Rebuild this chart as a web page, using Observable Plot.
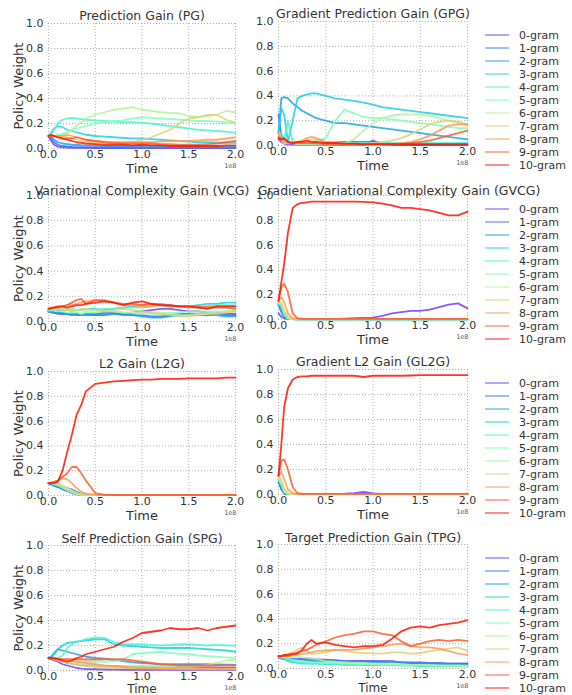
<!DOCTYPE html>
<html><head><meta charset="utf-8">
<script src="https://cdn.jsdelivr.net/npm/d3@7"></script>
<script src="https://cdn.jsdelivr.net/npm/@observablehq/plot@0.6"></script>
<style>
body{margin:0;background:#fff;font-family:"DejaVu Sans",sans-serif;}
#fig{position:relative;width:572px;height:695px;overflow:hidden;background:#fff;}
.legend{position:absolute;font-family:"DejaVu Sans",sans-serif;font-size:11px;color:#333;}
.legend .row{display:flex;align-items:center;height:13px;white-space:nowrap;}
.legend svg{margin-right:10px;}
</style></head><body><div id="fig"></div>
<script>
const SERIES = ["0-gram","1-gram","2-gram","3-gram","4-gram","5-gram","6-gram","7-gram","8-gram","9-gram","10-gram"];
const T = [0,0.03,0.06,0.1,0.15,0.2,0.25,0.3,0.35,0.4,0.5,0.6,0.7,0.8,0.9,1.0,1.1,1.2,1.3,1.4,1.5,1.6,1.7,1.8,1.9,2.0];
const XTICKS = [0,0.5,1,1.5,2];
const YTICKS = [0,0.2,0.4,0.6,0.8,1];

const PG = [
[0.10,0.06,0.03,0.015,0.01,0.008,0.006,0.005,0.005,0.005,0.004,0.004,0.004,0.004,0.003,0.003,0.003,0.003,0.003,0.003,0.003,0.003,0.003,0.003,0.003,0.003],
[0.10,0.08,0.05,0.03,0.02,0.016,0.013,0.011,0.01,0.01,0.009,0.008,0.008,0.008,0.007,0.007,0.007,0.006,0.006,0.006,0.006,0.006,0.005,0.005,0.005,0.005],
[0.10,0.09,0.07,0.05,0.04,0.035,0.03,0.028,0.026,0.025,0.022,0.02,0.02,0.019,0.019,0.018,0.018,0.018,0.017,0.017,0.017,0.016,0.016,0.016,0.016,0.015],
[0.10,0.13,0.16,0.18,0.17,0.15,0.14,0.13,0.12,0.11,0.10,0.095,0.09,0.085,0.08,0.08,0.075,0.07,0.065,0.06,0.055,0.05,0.05,0.048,0.046,0.045],
[0.10,0.12,0.15,0.20,0.23,0.24,0.245,0.24,0.235,0.23,0.225,0.22,0.215,0.21,0.21,0.205,0.20,0.19,0.18,0.17,0.16,0.15,0.145,0.14,0.135,0.125],
[0.10,0.10,0.10,0.11,0.12,0.13,0.15,0.16,0.17,0.18,0.20,0.21,0.22,0.225,0.24,0.25,0.245,0.24,0.235,0.23,0.225,0.22,0.22,0.215,0.21,0.20],
[0.10,0.10,0.10,0.10,0.11,0.12,0.15,0.18,0.21,0.24,0.27,0.29,0.31,0.32,0.33,0.31,0.30,0.29,0.285,0.28,0.26,0.25,0.26,0.27,0.30,0.29],
[0.10,0.10,0.10,0.10,0.10,0.09,0.08,0.07,0.06,0.055,0.05,0.045,0.04,0.04,0.05,0.07,0.09,0.12,0.15,0.20,0.24,0.25,0.27,0.27,0.23,0.21],
[0.10,0.10,0.10,0.10,0.10,0.11,0.10,0.09,0.08,0.07,0.06,0.055,0.05,0.05,0.05,0.05,0.05,0.055,0.06,0.06,0.06,0.065,0.07,0.07,0.08,0.09],
[0.10,0.10,0.10,0.09,0.08,0.08,0.08,0.09,0.08,0.07,0.06,0.05,0.045,0.04,0.04,0.04,0.04,0.035,0.035,0.03,0.03,0.03,0.035,0.04,0.05,0.06],
[0.10,0.11,0.10,0.09,0.08,0.07,0.06,0.05,0.045,0.04,0.035,0.03,0.03,0.03,0.025,0.03,0.025,0.025,0.02,0.02,0.02,0.02,0.02,0.02,0.025,0.025]
];
const GPG = [
[0.05,0.03,0.015,0.01,0.008,0.006,0.005,0.005,0.005,0.005,0.005,0.005,0.005,0.005,0.006,0.04,0.01,0.005,0.004,0.004,0.004,0.004,0.003,0.003,0.003,0.003],
[0.25,0.08,0.03,0.02,0.02,0.02,0.02,0.02,0.02,0.02,0.025,0.025,0.03,0.03,0.03,0.03,0.02,0.015,0.01,0.01,0.01,0.01,0.01,0.01,0.01,0.01],
[0.10,0.38,0.39,0.38,0.34,0.31,0.28,0.26,0.24,0.22,0.20,0.18,0.18,0.17,0.16,0.15,0.14,0.13,0.12,0.11,0.10,0.09,0.08,0.07,0.06,0.05],
[0.10,0.30,0.25,0.03,0.20,0.38,0.40,0.41,0.42,0.42,0.40,0.38,0.37,0.36,0.345,0.33,0.31,0.30,0.29,0.28,0.27,0.26,0.25,0.24,0.23,0.22],
[0.10,0.10,0.05,0.20,0.03,0.02,0.02,0.02,0.02,0.02,0.02,0.02,0.02,0.02,0.02,0.02,0.02,0.02,0.02,0.02,0.02,0.02,0.02,0.02,0.02,0.02],
[0.10,0.05,0.02,0.02,0.02,0.02,0.02,0.02,0.03,0.04,0.06,0.20,0.29,0.26,0.23,0.22,0.22,0.21,0.20,0.19,0.18,0.17,0.16,0.15,0.14,0.14],
[0.10,0.05,0.02,0.02,0.02,0.01,0.01,0.01,0.01,0.01,0.01,0.01,0.02,0.05,0.12,0.18,0.22,0.24,0.25,0.25,0.25,0.24,0.22,0.20,0.18,0.16],
[0.10,0.05,0.02,0.02,0.02,0.02,0.03,0.04,0.05,0.05,0.03,0.02,0.01,0.01,0.01,0.02,0.03,0.04,0.06,0.09,0.13,0.17,0.19,0.20,0.19,0.17],
[0.10,0.05,0.03,0.02,0.03,0.03,0.04,0.06,0.07,0.06,0.03,0.02,0.01,0.01,0.01,0.01,0.01,0.01,0.02,0.03,0.05,0.08,0.12,0.16,0.17,0.17],
[0.07,0.05,0.05,0.03,0.02,0.02,0.02,0.02,0.02,0.02,0.01,0.01,0.01,0.01,0.01,0.01,0.01,0.01,0.01,0.02,0.03,0.04,0.06,0.08,0.10,0.12],
[0.06,0.05,0.06,0.03,0.02,0.03,0.03,0.04,0.03,0.03,0.02,0.02,0.015,0.015,0.01,0.01,0.01,0.01,0.01,0.01,0.01,0.01,0.01,0.01,0.01,0.01]
];
const VCG = [
[0.08,0.07,0.07,0.06,0.06,0.06,0.05,0.06,0.05,0.06,0.06,0.07,0.07,0.06,0.07,0.08,0.09,0.10,0.10,0.09,0.08,0.08,0.07,0.07,0.06,0.06],
[0.08,0.08,0.07,0.07,0.06,0.06,0.06,0.05,0.05,0.06,0.05,0.05,0.06,0.06,0.05,0.05,0.04,0.04,0.05,0.06,0.06,0.05,0.05,0.06,0.05,0.05],
[0.08,0.08,0.07,0.07,0.07,0.06,0.06,0.06,0.05,0.05,0.05,0.06,0.06,0.05,0.05,0.04,0.03,0.03,0.04,0.05,0.06,0.06,0.05,0.05,0.04,0.04],
[0.08,0.08,0.09,0.09,0.09,0.09,0.10,0.09,0.09,0.10,0.10,0.09,0.10,0.11,0.12,0.13,0.14,0.14,0.13,0.12,0.12,0.13,0.14,0.14,0.15,0.15],
[0.09,0.09,0.09,0.10,0.10,0.10,0.09,0.09,0.10,0.10,0.09,0.10,0.10,0.11,0.11,0.11,0.12,0.13,0.12,0.12,0.11,0.12,0.12,0.13,0.13,0.13],
[0.09,0.09,0.09,0.08,0.08,0.07,0.07,0.07,0.06,0.07,0.07,0.08,0.08,0.07,0.07,0.07,0.06,0.06,0.07,0.07,0.08,0.08,0.07,0.08,0.08,0.09],
[0.10,0.10,0.10,0.10,0.11,0.10,0.10,0.09,0.09,0.08,0.09,0.08,0.08,0.07,0.07,0.06,0.07,0.07,0.06,0.05,0.05,0.06,0.06,0.07,0.08,0.08],
[0.10,0.10,0.10,0.10,0.09,0.09,0.08,0.09,0.10,0.10,0.09,0.08,0.09,0.10,0.09,0.08,0.07,0.06,0.05,0.04,0.04,0.05,0.06,0.06,0.07,0.08],
[0.10,0.10,0.11,0.11,0.12,0.13,0.13,0.14,0.15,0.16,0.17,0.16,0.15,0.13,0.13,0.12,0.12,0.13,0.12,0.12,0.11,0.11,0.12,0.12,0.12,0.12],
[0.10,0.10,0.11,0.11,0.12,0.13,0.15,0.17,0.18,0.14,0.17,0.17,0.15,0.14,0.14,0.13,0.14,0.13,0.12,0.12,0.12,0.12,0.11,0.11,0.11,0.10],
[0.10,0.11,0.11,0.12,0.12,0.11,0.12,0.13,0.13,0.14,0.15,0.16,0.15,0.13,0.15,0.16,0.14,0.13,0.13,0.12,0.12,0.11,0.10,0.12,0.12,0.12]
];
const GVCG = [
[0.05,0.02,0.01,0.005,0.003,0.003,0.003,0.003,0.003,0.003,0.005,0.005,0.007,0.01,0.012,0.015,0.03,0.05,0.06,0.07,0.07,0.08,0.10,0.12,0.13,0.09],
[0.12,0.06,0.02,0.005,0.003,0.002,0.002,0.002,0.002,0.002,0.002,0.002,0.002,0.002,0.002,0.002,0.002,0.002,0.002,0.002,0.002,0.002,0.002,0.002,0.002,0.002],
[0.12,0.08,0.02,0.005,0.003,0.002,0.002,0.002,0.002,0.002,0.002,0.002,0.002,0.002,0.002,0.002,0.002,0.002,0.002,0.002,0.002,0.002,0.002,0.002,0.002,0.002],
[0.13,0.10,0.03,0.006,0.003,0.002,0.002,0.002,0.002,0.002,0.002,0.002,0.002,0.002,0.002,0.002,0.002,0.002,0.002,0.002,0.002,0.002,0.002,0.002,0.002,0.002],
[0.13,0.12,0.04,0.01,0.003,0.002,0.002,0.002,0.002,0.002,0.002,0.002,0.002,0.002,0.002,0.002,0.002,0.002,0.002,0.002,0.002,0.002,0.002,0.002,0.002,0.002],
[0.13,0.12,0.05,0.01,0.004,0.002,0.002,0.002,0.002,0.002,0.002,0.002,0.002,0.002,0.002,0.002,0.002,0.002,0.002,0.002,0.002,0.002,0.002,0.002,0.002,0.002],
[0.14,0.13,0.06,0.012,0.004,0.002,0.002,0.002,0.002,0.002,0.002,0.002,0.002,0.002,0.002,0.002,0.002,0.002,0.002,0.002,0.002,0.002,0.002,0.002,0.002,0.002],
[0.14,0.14,0.07,0.02,0.005,0.003,0.003,0.003,0.003,0.003,0.003,0.003,0.003,0.003,0.003,0.003,0.003,0.003,0.003,0.003,0.003,0.003,0.003,0.003,0.003,0.003],
[0.15,0.18,0.14,0.05,0.01,0.005,0.004,0.004,0.004,0.004,0.004,0.004,0.004,0.004,0.004,0.004,0.004,0.004,0.004,0.004,0.004,0.004,0.004,0.004,0.004,0.004],
[0.15,0.26,0.29,0.22,0.05,0.01,0.006,0.005,0.005,0.005,0.005,0.005,0.005,0.005,0.005,0.005,0.005,0.005,0.005,0.005,0.005,0.005,0.005,0.005,0.005,0.005],
[0.15,0.30,0.45,0.70,0.90,0.93,0.94,0.945,0.95,0.95,0.95,0.95,0.95,0.95,0.948,0.945,0.935,0.92,0.90,0.90,0.89,0.88,0.86,0.84,0.84,0.87]
];
const L2G = [
[0.10,0.09,0.08,0.07,0.05,0.035,0.02,0.01,0.006,0.004,0.004,0.004,0.004,0.004,0.004,0.004,0.004,0.004,0.004,0.004,0.004,0.004,0.004,0.004,0.004,0.004],
[0.10,0.09,0.08,0.07,0.06,0.05,0.03,0.02,0.01,0.006,0.004,0.004,0.004,0.004,0.004,0.004,0.004,0.004,0.004,0.004,0.004,0.004,0.004,0.004,0.004,0.004],
[0.10,0.09,0.09,0.08,0.07,0.06,0.05,0.03,0.015,0.008,0.005,0.005,0.005,0.005,0.005,0.005,0.005,0.005,0.005,0.005,0.005,0.005,0.005,0.005,0.005,0.005],
[0.10,0.10,0.09,0.08,0.06,0.05,0.03,0.02,0.01,0.006,0.005,0.005,0.005,0.005,0.005,0.005,0.005,0.005,0.005,0.005,0.005,0.005,0.005,0.005,0.005,0.005],
[0.10,0.10,0.09,0.08,0.06,0.04,0.025,0.012,0.007,0.005,0.005,0.005,0.005,0.005,0.005,0.005,0.005,0.005,0.005,0.005,0.005,0.005,0.005,0.005,0.005,0.005],
[0.10,0.10,0.09,0.09,0.07,0.05,0.03,0.015,0.008,0.005,0.004,0.004,0.004,0.004,0.004,0.004,0.004,0.004,0.004,0.004,0.004,0.004,0.004,0.004,0.004,0.004],
[0.10,0.10,0.10,0.09,0.07,0.05,0.03,0.015,0.008,0.005,0.004,0.004,0.004,0.004,0.004,0.004,0.004,0.004,0.004,0.004,0.004,0.004,0.004,0.004,0.004,0.004],
[0.10,0.11,0.11,0.10,0.08,0.06,0.04,0.02,0.01,0.006,0.004,0.004,0.004,0.004,0.004,0.004,0.004,0.004,0.004,0.004,0.004,0.004,0.004,0.004,0.004,0.004],
[0.10,0.10,0.11,0.12,0.14,0.13,0.10,0.06,0.03,0.015,0.005,0.004,0.004,0.004,0.004,0.004,0.004,0.004,0.004,0.004,0.004,0.004,0.004,0.004,0.004,0.004],
[0.10,0.10,0.11,0.12,0.15,0.18,0.23,0.23,0.18,0.12,0.02,0.005,0.004,0.004,0.004,0.004,0.004,0.004,0.004,0.004,0.004,0.004,0.004,0.004,0.004,0.004],
[0.10,0.10,0.10,0.11,0.20,0.35,0.49,0.65,0.73,0.84,0.90,0.91,0.92,0.925,0.93,0.935,0.935,0.94,0.94,0.94,0.945,0.945,0.945,0.945,0.95,0.95]
];
const GL2G = [
[0.10,0.04,0.01,0.003,0.003,0.003,0.003,0.003,0.003,0.003,0.003,0.004,0.006,0.01,0.02,0.008,0.005,0.004,0.004,0.004,0.004,0.003,0.003,0.003,0.003,0.003],
[0.12,0.05,0.01,0.003,0.003,0.003,0.003,0.003,0.003,0.003,0.003,0.003,0.003,0.003,0.003,0.003,0.003,0.003,0.003,0.003,0.003,0.003,0.003,0.003,0.003,0.003],
[0.12,0.06,0.015,0.004,0.003,0.003,0.003,0.003,0.003,0.003,0.003,0.003,0.003,0.003,0.003,0.003,0.003,0.003,0.003,0.003,0.003,0.003,0.003,0.003,0.003,0.003],
[0.12,0.07,0.02,0.004,0.003,0.003,0.003,0.003,0.003,0.003,0.003,0.003,0.003,0.003,0.003,0.003,0.003,0.003,0.003,0.003,0.003,0.003,0.003,0.003,0.003,0.003],
[0.12,0.08,0.02,0.005,0.003,0.003,0.003,0.003,0.003,0.003,0.003,0.003,0.003,0.003,0.003,0.003,0.003,0.003,0.003,0.003,0.003,0.003,0.003,0.003,0.003,0.003],
[0.13,0.09,0.025,0.005,0.003,0.003,0.003,0.003,0.003,0.003,0.003,0.003,0.003,0.003,0.003,0.003,0.003,0.003,0.003,0.003,0.003,0.003,0.003,0.003,0.003,0.003],
[0.13,0.10,0.03,0.006,0.003,0.003,0.003,0.003,0.003,0.003,0.003,0.003,0.003,0.003,0.003,0.003,0.003,0.003,0.003,0.003,0.003,0.003,0.003,0.003,0.003,0.003],
[0.14,0.12,0.05,0.01,0.004,0.004,0.004,0.004,0.004,0.004,0.004,0.004,0.004,0.004,0.004,0.004,0.004,0.004,0.004,0.004,0.004,0.004,0.004,0.004,0.004,0.004],
[0.15,0.18,0.12,0.04,0.01,0.005,0.005,0.005,0.005,0.005,0.005,0.005,0.005,0.005,0.005,0.005,0.005,0.005,0.005,0.005,0.005,0.005,0.005,0.005,0.005,0.005],
[0.15,0.27,0.28,0.20,0.06,0.01,0.006,0.005,0.005,0.005,0.005,0.005,0.005,0.005,0.005,0.005,0.005,0.005,0.005,0.005,0.005,0.005,0.005,0.005,0.005,0.005],
[0.15,0.40,0.70,0.85,0.92,0.94,0.945,0.945,0.95,0.95,0.95,0.95,0.95,0.95,0.94,0.95,0.95,0.95,0.95,0.952,0.955,0.955,0.955,0.955,0.955,0.955]
];
const SPG = [
[0.10,0.09,0.08,0.07,0.05,0.04,0.03,0.02,0.015,0.012,0.01,0.008,0.007,0.006,0.006,0.005,0.005,0.005,0.005,0.005,0.005,0.005,0.005,0.005,0.005,0.005],
[0.10,0.10,0.09,0.08,0.07,0.06,0.055,0.05,0.045,0.04,0.04,0.035,0.035,0.03,0.03,0.03,0.03,0.03,0.028,0.027,0.026,0.025,0.024,0.022,0.021,0.02],
[0.10,0.11,0.14,0.17,0.16,0.15,0.14,0.13,0.12,0.11,0.10,0.095,0.085,0.075,0.065,0.06,0.055,0.05,0.05,0.05,0.05,0.05,0.05,0.048,0.047,0.045],
[0.10,0.11,0.13,0.17,0.20,0.22,0.225,0.23,0.235,0.24,0.25,0.25,0.21,0.20,0.195,0.19,0.185,0.18,0.18,0.18,0.18,0.175,0.17,0.165,0.16,0.15],
[0.10,0.10,0.10,0.10,0.12,0.18,0.21,0.23,0.24,0.25,0.265,0.26,0.23,0.21,0.21,0.21,0.205,0.20,0.205,0.21,0.21,0.205,0.20,0.205,0.20,0.20],
[0.10,0.10,0.09,0.09,0.085,0.08,0.08,0.075,0.07,0.07,0.07,0.07,0.075,0.09,0.13,0.14,0.145,0.15,0.14,0.135,0.13,0.12,0.115,0.11,0.105,0.10],
[0.10,0.10,0.09,0.08,0.07,0.065,0.06,0.055,0.05,0.045,0.04,0.035,0.03,0.03,0.03,0.03,0.03,0.03,0.03,0.03,0.03,0.035,0.045,0.06,0.08,0.085],
[0.10,0.10,0.09,0.08,0.07,0.06,0.05,0.045,0.04,0.035,0.03,0.025,0.02,0.02,0.02,0.018,0.017,0.016,0.015,0.015,0.015,0.014,0.014,0.013,0.013,0.012],
[0.10,0.10,0.09,0.09,0.085,0.08,0.075,0.07,0.065,0.06,0.05,0.04,0.035,0.03,0.025,0.02,0.018,0.015,0.013,0.012,0.011,0.01,0.01,0.01,0.01,0.01],
[0.10,0.10,0.10,0.095,0.09,0.09,0.09,0.09,0.09,0.088,0.088,0.09,0.09,0.09,0.08,0.07,0.06,0.05,0.045,0.04,0.04,0.04,0.04,0.04,0.04,0.04],
[0.10,0.10,0.095,0.09,0.08,0.07,0.08,0.10,0.11,0.13,0.15,0.17,0.19,0.23,0.26,0.30,0.31,0.32,0.34,0.33,0.33,0.34,0.32,0.34,0.35,0.36]
];
const TPG = [
[0.09,0.08,0.075,0.07,0.07,0.075,0.08,0.08,0.08,0.075,0.07,0.065,0.06,0.06,0.06,0.06,0.06,0.06,0.05,0.045,0.04,0.04,0.04,0.04,0.04,0.04],
[0.10,0.09,0.09,0.08,0.08,0.075,0.075,0.07,0.07,0.07,0.07,0.065,0.06,0.06,0.06,0.06,0.055,0.055,0.05,0.05,0.05,0.045,0.045,0.04,0.04,0.04],
[0.10,0.09,0.08,0.07,0.07,0.065,0.065,0.06,0.06,0.06,0.06,0.055,0.055,0.05,0.05,0.05,0.05,0.055,0.05,0.04,0.04,0.035,0.035,0.035,0.03,0.03],
[0.10,0.09,0.08,0.06,0.05,0.045,0.04,0.04,0.04,0.04,0.035,0.035,0.03,0.03,0.03,0.03,0.03,0.025,0.025,0.025,0.02,0.02,0.02,0.02,0.02,0.02],
[0.10,0.09,0.08,0.07,0.06,0.05,0.045,0.045,0.04,0.04,0.04,0.035,0.035,0.03,0.03,0.03,0.03,0.03,0.025,0.025,0.025,0.02,0.02,0.02,0.02,0.015],
[0.10,0.09,0.09,0.08,0.07,0.065,0.06,0.055,0.05,0.05,0.045,0.045,0.04,0.04,0.035,0.035,0.03,0.03,0.03,0.025,0.025,0.025,0.02,0.02,0.02,0.02],
[0.10,0.10,0.10,0.10,0.10,0.095,0.09,0.085,0.08,0.075,0.06,0.055,0.05,0.045,0.045,0.04,0.04,0.035,0.035,0.03,0.03,0.03,0.025,0.025,0.025,0.02],
[0.10,0.10,0.11,0.12,0.13,0.15,0.17,0.14,0.12,0.12,0.13,0.15,0.14,0.13,0.125,0.12,0.12,0.13,0.13,0.12,0.125,0.14,0.15,0.16,0.17,0.14],
[0.10,0.10,0.10,0.11,0.11,0.11,0.12,0.12,0.13,0.14,0.145,0.15,0.15,0.15,0.16,0.17,0.18,0.19,0.20,0.18,0.17,0.17,0.16,0.14,0.12,0.11],
[0.10,0.10,0.10,0.10,0.11,0.13,0.14,0.15,0.17,0.19,0.22,0.25,0.27,0.28,0.30,0.30,0.28,0.27,0.22,0.18,0.20,0.22,0.23,0.22,0.23,0.22],
[0.10,0.10,0.11,0.11,0.12,0.12,0.15,0.20,0.23,0.20,0.21,0.19,0.18,0.17,0.18,0.18,0.19,0.24,0.30,0.33,0.34,0.33,0.35,0.36,0.37,0.39]
];

const COLORS = ["#7040ff","#3f6ffb","#1aa0f0","#1ad0e3","#4df3ce","#80ffb4","#b3f396","#e0cf78","#ff9a50","#ff5a2e","#ff1500"];

const PANELS = [
  {title:"Prediction Gain (PG)", data:PG, col:0, top:23, bottom:148, tdy:-8, timeDy:20, tfs:13},
  {title:"Gradient Prediction Gain (GPG)", data:GPG, col:1, top:21, bottom:145, tdy:-8, timeDy:20, tfs:13},
  {title:"Variational Complexity Gain (VCG)", data:VCG, col:0, top:195, bottom:321, tdy:-5, timeDy:20, tfs:13},
  {title:"Gradient Variational Complexity Gain (GVCG)", data:GVCG, col:1, top:195, bottom:319, tdy:-5, tdx:26, timeDy:20, tfs:13},
  {title:"L2 Gain (L2G)", data:L2G, col:0, top:371, bottom:495, tdy:-8, timeDy:20, tfs:13},
  {title:"Gradient L2 Gain (GL2G)", data:GL2G, col:1, top:369, bottom:494, tdy:-8, timeDy:20, tfs:13},
  {title:"Self Prediction Gain (SPG)", data:SPG, col:0, top:545, bottom:670, tdy:-7, timeDy:19, tfs:12},
  {title:"Target Prediction Gain (TPG)", data:TPG, col:1, top:544, bottom:668, tdy:-7, timeDy:20, tfs:12}
];

const fig = document.getElementById("fig");
const fmt = d => d.toFixed(1);
const gridStyle = {stroke:"#9a9a9a", strokeOpacity:1, strokeDasharray:"1,2", strokeWidth:0.8};

for (const p of PANELS) {
  const left = p.col === 0 ? 0 : 250;
  const width = p.col === 0 ? 250 : 232;
  const mL = p.col === 0 ? 48 : 28;
  const mR = width - (p.col === 0 ? 235 : 467 - 250);
  const mT = 24, mB = 30;
  const rows = [];
  p.data.forEach((vals, i) => vals.forEach((v, j) => rows.push({t: T[j], w: v, s: SERIES[i]})));
  const marks = [
    Plot.gridX({ticks: XTICKS, ...gridStyle}),
    Plot.gridY({ticks: YTICKS, ...gridStyle}),
    Plot.axisX({ticks: XTICKS, tickFormat: fmt, tickSize: 0, tickPadding: 2, fontSize: 11, label: null, fill: "#333"}),
    Plot.axisY({ticks: YTICKS, tickFormat: fmt, tickSize: 0, tickPadding: 5, fontSize: 11, label: null, fill: "#333"}),
    Plot.line(rows, {x: "t", y: "w", z: "s", stroke: "s", strokeWidth: 1.8, strokeOpacity: 0.85}),
    Plot.text([p.title], {text: d => d, frameAnchor: "top", dy: p.tdy, dx: p.tdx || 0, fontSize: 12.5, textAnchor: "middle", lineAnchor: "middle", fill: "#333"}),
    Plot.text(["Time"], {text: d => d, frameAnchor: "bottom", dy: p.timeDy, fontSize: p.tfs, textAnchor: "middle", lineAnchor: "middle", fill: "#333"}),
    Plot.text(["1e8"], {text: d => d, frameAnchor: "bottom-right", dy: 17, dx: 1, fontSize: 6.5, textAnchor: "end", lineAnchor: "middle", fill: "#555"})
  ];
  if (p.col === 0) {
    marks.push(Plot.text(["Policy Weight"], {text: d => d, frameAnchor: "left", dx: -30, rotate: -90, fontSize: 13, textAnchor: "middle", lineAnchor: "middle", fill: "#333"}));
  }
  const svg = Plot.plot({
    width, height: (p.bottom - p.top) + mT + mB,
    marginLeft: mL, marginRight: mR, marginTop: mT, marginBottom: mB,
    x: {domain: [0, 2]},
    y: {domain: [0, 1]},
    color: {domain: SERIES, range: COLORS},
    style: {background: "transparent", overflow: "visible", fontFamily: "DejaVu Sans", fontSize: "11px", color: "#333"},
    marks
  });
  svg.style.position = "absolute";
  svg.style.left = left + "px";
  svg.style.top = (p.top - mT) + "px";
  fig.appendChild(svg);

  if (p.col === 1) {
    const lg = document.createElement("div");
    lg.className = "legend";
    lg.style.left = "485px";
    lg.style.top = (p.top + 14 - 6.5) + "px";
    SERIES.forEach((s, i) => {
      const r = document.createElement("div");
      r.className = "row";
      r.innerHTML = `<svg width="24" height="4"><line x1="0" y1="2" x2="24" y2="2" stroke="${COLORS[i]}" stroke-opacity="0.6" stroke-width="1.6"/></svg><span>${s}</span>`;
      lg.appendChild(r);
    });
    fig.appendChild(lg);
  }
}
</script></body></html>
